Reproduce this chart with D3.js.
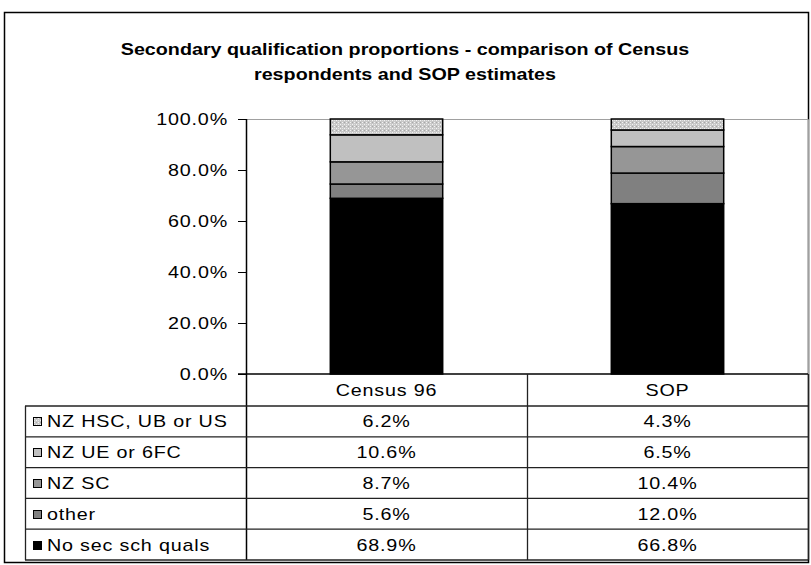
<!DOCTYPE html>
<html>
<head>
<meta charset="utf-8">
<script src="https://cdn.jsdelivr.net/npm/d3@7/dist/d3.min.js"></script>
<style>
  body { margin: 0; background: #fff; }
  text { font-family: "Liberation Sans", Arial, sans-serif; fill: #000; }
</style>
</head>
<body>
<div id="chart"></div>
<script>
// data
const categories = ["Census 96", "SOP"];
const seriesNames = ["No sec sch quals", "other", "NZ SC", "NZ UE or 6FC", "NZ HSC, UB or US"]; // bottom -> top
const census = [68.9, 5.6, 8.7, 10.6, 6.2];
const sop = [66.8, 12.0, 10.4, 6.5, 4.3];
const yTicks = [0, 20, 40, 60, 80, 100];
const title = ["Secondary qualification proportions - comparison of Census", "respondents and SOP estimates"];

const fills = ["#000000", "#808080", "#969696", "#c0c0c0", "url(#speckle)"];
const values = [census, sop];

const W = 811, H = 565;
const plot = { left: 246, right: 808, top: 119, bottom: 374 };
const tableLeft = 25, headerBottom = 406, tableBottom = 560;

const svg = d3.select("#chart").append("svg")
  .attr("width", W).attr("height", H);

// speckled pattern for the top segment
const defs = svg.append("defs");
const pat = defs.append("pattern").attr("id", "speckle")
  .attr("width", 4).attr("height", 4).attr("patternUnits", "userSpaceOnUse");
pat.append("rect").attr("width", 4).attr("height", 4).attr("fill", "#c8c8c8");
pat.append("rect").attr("x", 0).attr("y", 0).attr("width", 1).attr("height", 1).attr("fill", "#f4f4f4");
pat.append("rect").attr("x", 2).attr("y", 2).attr("width", 1).attr("height", 1).attr("fill", "#f4f4f4");
pat.append("rect").attr("x", 2).attr("y", 0).attr("width", 1).attr("height", 1).attr("fill", "#e2e2e2");
pat.append("rect").attr("x", 0).attr("y", 2).attr("width", 1).attr("height", 1).attr("fill", "#a8a8a8");

// text in the picture is drawn a bit wide, so stretch it horizontally
function label(g, x, y, str, anchor, opts) {
  opts = opts || {};
  const sx = opts.stretch || 1.16;
  const t = g.append("g").attr("transform", `translate(${x},${y}) scale(${sx},1)`)
    .append("text")
    .attr("text-anchor", anchor)
    .style("font-size", (opts.size || 17) + "px")
    .style("letter-spacing", (opts.ls == null ? 0.7 : opts.ls) + "px")
    .text(str);
  if (opts.bold) t.style("font-weight", "bold");
  return t;
}

// outer frame
svg.append("rect")
  .attr("x", 4.5).attr("y", 12.5).attr("width", 804).attr("height", 550)
  .attr("fill", "none").attr("stroke", "#000").attr("stroke-width", 1.5);

// title
title.forEach((s, i) => label(svg, 405, 55 + i * 25, s, "middle", { bold: true, size: 17, stretch: 1.16, ls: 0 }));

const x = d3.scaleBand().domain(categories)
  .range([plot.left, plot.right]).paddingInner(0.6).paddingOuter(0.3);
const y = d3.scaleLinear().domain([0, 100]).range([plot.bottom, plot.top]);

// plot area border (top / right, gray)
svg.append("path")
  .attr("d", `M${plot.left},${plot.top + 0.5}H${plot.right + 0.5}V${plot.bottom}`)
  .attr("fill", "none").attr("stroke", "#a0a0a0").attr("stroke-width", 1);

// stacked bars
const stackData = categories.map((c, ci) => {
  const o = { cat: c };
  seriesNames.forEach((s, si) => o[s] = values[ci][si]);
  return o;
});
const stacked = d3.stack().keys(seriesNames)(stackData);
svg.append("g").selectAll("g").data(stacked).join("g")
  .attr("fill", (d, i) => fills[i])
  .selectAll("rect").data(d => d).join("rect")
  .attr("x", d => x(d.data.cat))
  .attr("width", x.bandwidth())
  .attr("y", d => y(d[1]))
  .attr("height", d => y(d[0]) - y(d[1]))
  .attr("stroke", "#000").attr("stroke-width", 1.5);

// y axis
const yAxis = svg.append("g").attr("transform", `translate(${plot.left},0)`)
  .call(d3.axisLeft(y).tickValues(yTicks).tickSize(8).tickFormat(d => d.toFixed(1) + "%"));
yAxis.select(".domain").remove();
yAxis.selectAll(".tick line").attr("stroke", "#000");
yAxis.selectAll(".tick text").remove();
yTicks.forEach(t => label(svg, 228, y(t) + 6, t.toFixed(1) + "%", "end"));

// axis line down through the table
svg.append("line")
  .attr("x1", plot.left + 0.5).attr("x2", plot.left + 0.5)
  .attr("y1", plot.top).attr("y2", tableBottom)
  .attr("stroke", "#000").attr("stroke-width", 1.5);

// data table
const tbl = svg.append("g");
const rowH = (tableBottom - headerBottom) / seriesNames.length;
const rows = seriesNames.slice().reverse(); // top row = top segment
const colEdges = [plot.left, x.step() + plot.left, plot.right];

// horizontal lines
tbl.append("line").attr("x1", plot.left - 8).attr("x2", plot.right)
  .attr("y1", plot.bottom).attr("y2", plot.bottom).attr("stroke", "#000").attr("stroke-width", 1.5);
d3.range(seriesNames.length + 1).forEach(i => {
  const yy = headerBottom + i * rowH;
  tbl.append("line").attr("x1", tableLeft).attr("x2", plot.right)
    .attr("y1", yy).attr("y2", yy).attr("stroke", "#222").attr("stroke-width", 1.3);
});
// verticals
tbl.append("line").attr("x1", tableLeft + 0.5).attr("x2", tableLeft + 0.5)
  .attr("y1", headerBottom).attr("y2", tableBottom).attr("stroke", "#222").attr("stroke-width", 1.3);
[colEdges[1], colEdges[2]].forEach(xx => {
  tbl.append("line").attr("x1", xx + 0.5).attr("x2", xx + 0.5)
    .attr("y1", plot.bottom).attr("y2", tableBottom).attr("stroke", "#222").attr("stroke-width", 1.3);
});

// header
categories.forEach(c => label(tbl, x(c) + x.bandwidth() / 2, plot.bottom + 22, c, "middle"));

// rows
rows.forEach((s, ri) => {
  const si = seriesNames.indexOf(s);
  const cy = headerBottom + ri * rowH + rowH / 2;
  tbl.append("rect").attr("x", 33.5).attr("y", Math.round(cy - 4) + 0.5)
    .attr("width", 8).attr("height", 8)
    .attr("fill", fills[si]).attr("stroke", "#000").attr("stroke-width", 1);
  label(tbl, 47, cy + 6, s, "start");
  categories.forEach((c, ci) => {
    label(tbl, x(c) + x.bandwidth() / 2, cy + 6, values[ci][si].toFixed(1) + "%", "middle");
  });
});
</script>
</body>
</html>
